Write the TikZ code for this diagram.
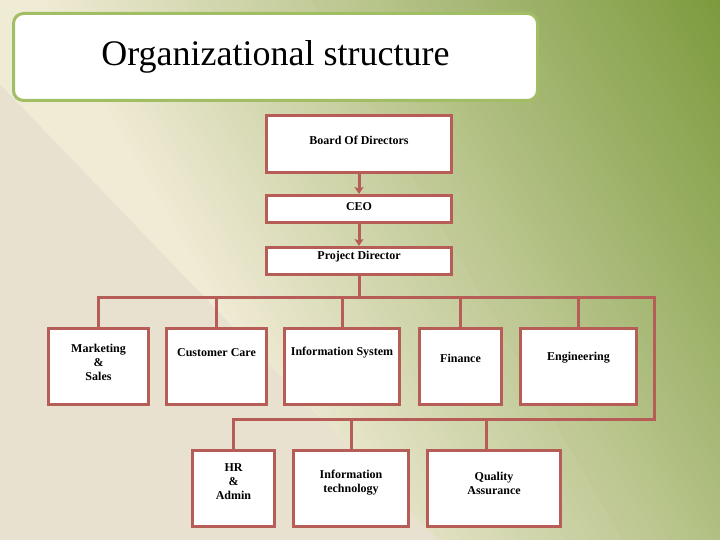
\documentclass[tikz,border=0pt]{standalone}
\usepackage{fontspec}
\setmainfont{Liberation Serif}
\usetikzlibrary{arrows.meta, positioning, calc}
\definecolor{boxred}{HTML}{B65D58}
\definecolor{titlegreen}{HTML}{A2BE64}
\definecolor{bgbeige}{HTML}{E8E1D0}
\definecolor{bgcream}{HTML}{F0EBD5}
\definecolor{bgolive}{HTML}{7B9A3C}
\tikzstyle{arrow} = [line width=3pt, draw=boxred, -{Stealth[length=7pt, width=9pt, inset=1.5pt]}]
\tikzstyle{link} = [line width=3pt, draw=boxred, line cap=rect]
\tikzstyle{unit} = [draw=boxred, line width=3pt, fill=white, rectangle]
\tikzstyle{txt} = [font=\bfseries\fontsize{12}{14}\selectfont, align=center, anchor=center]

\begin{document}
\begin{tikzpicture}[x=1pt, y=-1pt]
\useasboundingbox (0,0) rectangle (720,540);

% Background
\fill[bgbeige] (0,0) rectangle (720,540);
\coordinate (p0) at (207,300);
\begin{scope}
\clip (-81,0) -- (720,0) -- (720,540) -- (438,540) -- cycle;
\fill[bgcream] ($(p0)+(-450,-779)$) -- ($(p0)+(450,779)$) -- ($(p0)+(-900,1299)$) -- ($(p0)+(-1800,-259)$) -- cycle;
\foreach \i in {0,...,61}{
  \pgfmathsetmacro{\d}{\i*10}
  \pgfmathsetmacro{\e}{\i*10+11}
  \pgfmathsetmacro{\pct}{min(100,\i*100/59.4)}
  \fill[bgolive!\pct!bgcream] ($(p0)+\d*(0.866,-0.5)+(-450,-779)$) -- ($(p0)+\d*(0.866,-0.5)+(450,779)$)
    -- ($(p0)+\e*(0.866,-0.5)+(450,779)$) -- ($(p0)+\e*(0.866,-0.5)+(-450,-779)$) -- cycle;
}
\end{scope}

% Title
\node[draw=titlegreen, line width=3pt, fill=white, rounded corners=10pt, minimum width=524, minimum height=87, font=\fontsize{36}{40}\selectfont] (title) at (275.5,57) {Organizational structure};

% Top management
\node[unit, minimum width=185, minimum height=57, label={[txt, yshift=-26]north:Board Of Directors}] (board) at (359,144) {};
\node[unit, minimum width=185, minimum height=27, label={[txt, yshift=-13]north:CEO}] (ceo) at (359,209) {};
\node[unit, minimum width=185, minimum height=27, label={[txt, yshift=-11]north:Project Director}] (pd) at (359,261) {};

% Departments
\node[unit, minimum width=100, minimum height=76, label={[txt, yshift=-35]north:{Marketing\\\&\\Sales}}] (mkt) at (98.5,366.5) {};
\node[unit, minimum width=100, minimum height=76, label={[txt, yshift=-26]north:Customer Care}] (cc) at (216.5,366.5) {};
\node[unit, minimum width=115, minimum height=76, label={[txt, yshift=-26]north:Information System}] (is) at (342,366.5) {};
\node[unit, minimum width=82, minimum height=76, label={[txt, yshift=-31]north:Finance}] (fin) at (460.5,366.5) {};
\node[unit, minimum width=116, minimum height=76, label={[txt, yshift=-31]north:Engineering}] (eng) at (578.5,366.5) {};

% Support units
\node[unit, minimum width=82, minimum height=76, label={[txt, yshift=-33]north:{HR\\\&\\Admin}}] (hr) at (233.5,488.5) {};
\node[unit, minimum width=115, minimum height=76, label={[txt, yshift=-34]north:{Information\\technology}}] (it) at (351,488.5) {};
\node[unit, minimum width=133, minimum height=76, label={[txt, yshift=-34]north:{Quality\\Assurance}}] (qa) at (494,488.5) {};

% Bus lines
\coordinate (busW) at (98,297);
\coordinate (busE) at (654,297);
\coordinate (lowE) at (654,419);
\coordinate (lowW) at (233,419);

% Connectors
\draw[arrow] (board) -- (ceo);
\draw[arrow] (ceo) -- (pd);
\draw[link] (pd.south) -- (pd.south |- busW);
\draw[link] (busW) -- (busE) -- (lowE) -- (lowW);
\foreach \n in {mkt,cc,is,fin,eng}
  \draw[link] (\n.north |- busW) -- (\n.north);
\foreach \n in {hr,it}
  \draw[link] (\n.north |- lowW) -- (\n.north);
\draw[link] ([xshift=-8pt]qa.north |- lowW) -- ([xshift=-8pt]qa.north);
\end{tikzpicture}
\end{document}
